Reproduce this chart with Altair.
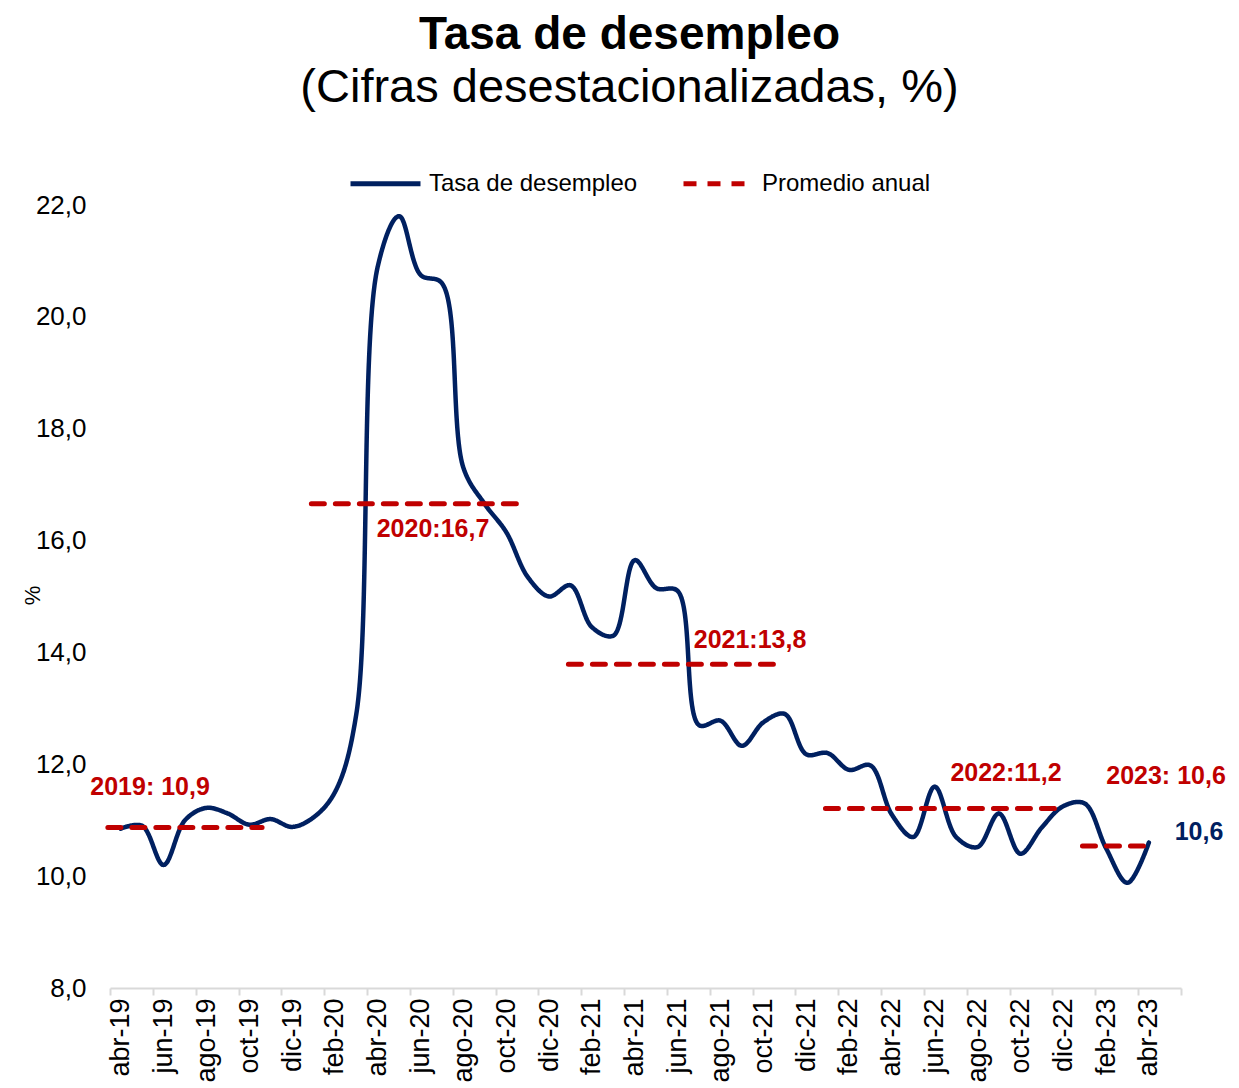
import altair as alt
import pandas as pd

months = ['abr-19', 'may-19', 'jun-19', 'jul-19', 'ago-19', 'sep-19', 'oct-19', 'nov-19', 'dic-19',
          'ene-20', 'feb-20', 'mar-20', 'abr-20', 'may-20', 'jun-20', 'jul-20', 'ago-20', 'sep-20',
          'oct-20', 'nov-20', 'dic-20',
          'ene-21', 'feb-21', 'mar-21', 'abr-21', 'may-21', 'jun-21', 'jul-21', 'ago-21', 'sep-21',
          'oct-21', 'nov-21', 'dic-21',
          'ene-22', 'feb-22', 'mar-22', 'abr-22', 'may-22', 'jun-22', 'jul-22', 'ago-22', 'sep-22',
          'oct-22', 'nov-22', 'dic-22',
          'ene-23', 'feb-23', 'mar-23', 'abr-23']

rate = [10.85, 10.9, 10.2, 11.0, 11.22, 11.12, 10.92, 11.02, 10.88,
        11.05, 11.5, 12.9, 20.9, 21.8, 20.75, 20.6, 17.3, 16.65, 16.15, 15.35, 15.0,
        15.2, 14.45, 14.3, 15.65, 15.15, 15.1, 12.7, 12.78, 12.33, 12.75, 12.9, 12.18,
        12.2, 11.9, 11.98, 11.1, 10.7, 11.6, 10.7, 10.52, 11.12, 10.4, 10.87, 11.25,
        11.3, 10.5, 9.88, 10.6]

avg_year = ['2019', '2020', '2021', '2022', '2023']
avg_value = [10.87, 16.66, 13.79, 11.21, 10.54]
avg_start = [-0.6, 8.9, 20.9, 32.9, 44.9]
avg_end = [6.6, 18.55, 30.6, 43.7, 47.9]
avg_label = ['2019: 10,9', '2020:16,7', '2021:13,8', '2022:11,2', '2023: 10,6']

last_label = '10,6'

# annotation anchor positions (month index, % value)
avg_label_x = [1.37, 14.58, 29.38, 41.33, 48.8]
avg_label_y = [11.59, 16.21, 14.22, 11.84, 11.79]
last_label_x = 50.34
last_label_y = 10.79

S_RATE = 'Tasa de desempleo'
S_AVG = 'Promedio anual'
NAVY = '#002060'
RED = '#C00000'
FONT = 'Liberation Sans'

df_rate = pd.DataFrame({'i': list(range(len(months))), 'mes': months, 'tasa': rate, 'serie': S_RATE})
df_avg = pd.DataFrame({'anio': avg_year, 'valor': avg_value, 'x0': avg_start, 'x1': avg_end, 'serie': S_AVG})
df_lab = pd.DataFrame({'txt': avg_label, 'x': avg_label_x, 'y': avg_label_y})
df_last = pd.DataFrame({'txt': [last_label], 'x': [last_label_x], 'y': [last_label_y]})

n_cat = len(months) + 1
x_scale = alt.Scale(domain=[-0.5, n_cat - 0.5], nice=False, zero=False)
y_scale = alt.Scale(domain=[8, 22], nice=False, zero=False)

labels_js = '[' + ','.join("'" + m + "'" for m in months) + ']'
x_label_expr = f"datum.value < {len(months) - 0.5} ? {labels_js}[round(datum.value + 0.5)] : ''"

x_axis = alt.Axis(
    values=[k - 0.5 for k in range(0, n_cat + 1, 2)],
    labelExpr=x_label_expr, labelAngle=-90, labelOffset=10.7, labelPadding=3,
    labelFontSize=27, labelColor='black', labelFont=FONT, labelOverlap=False,
    labelBound=False, labelFlush=False,
    domainColor='#d9d9d9', domainWidth=2, tickColor='#d9d9d9', tickWidth=2, tickSize=7,
    grid=False, title=None,
)
y_axis = alt.Axis(
    values=[8, 10, 12, 14, 16, 18, 20, 22],
    labelExpr="replace(format(datum.value, '.1f'), '.', ',')",
    labelFontSize=26, labelColor='black', labelFont=FONT, labelPadding=24,
    ticks=False, tickSize=0, domain=False, grid=False,
    title='%', titleFontSize=22, titleFontWeight='normal', titleColor='black', titleFont=FONT,
    titleX=-78, titleY=390, titleAngle=-90, titleBaseline='middle', titleAlign='center',
)

legend = alt.Legend(orient='none', legendX=238, legendY=-59, direction='horizontal',
                    title=None, symbolType='stroke', symbolSize=4900,
                    symbolStrokeWidth=5, labelFontSize=24, labelFont=FONT, labelLimit=500,
                    labelColor='black', labelOffset=6, columnPadding=35)

color = alt.Color('serie:N', scale=alt.Scale(domain=[S_RATE, S_AVG], range=[NAVY, RED]), legend=legend)
dash = alt.StrokeDash('serie:N', scale=alt.Scale(domain=[S_RATE, S_AVG], range=[[1, 0], [13, 11]]),
                      legend=legend)

line = alt.Chart(df_rate).mark_line(interpolate='catmull-rom', strokeWidth=4.5, strokeCap='round').encode(
    x=alt.X('i:Q', scale=x_scale, axis=x_axis),
    y=alt.Y('tasa:Q', scale=y_scale, axis=y_axis),
    color=color, strokeDash=dash,
)

rules = alt.Chart(df_avg).mark_rule(strokeWidth=5, strokeCap='round').encode(
    x=alt.X('x0:Q', scale=x_scale),
    x2='x1:Q',
    y=alt.Y('valor:Q', scale=y_scale),
    color=color, strokeDash=dash,
)

labels = alt.Chart(df_lab).mark_text(fontSize=25, fontWeight='bold', color=RED, font=FONT,
                                     align='center', baseline='middle').encode(
    x=alt.X('x:Q', scale=x_scale), y=alt.Y('y:Q', scale=y_scale), text='txt:N')

last = alt.Chart(df_last).mark_text(fontSize=25, fontWeight='bold', color=NAVY, font=FONT,
                                    align='center', baseline='middle').encode(
    x=alt.X('x:Q', scale=x_scale), y=alt.Y('y:Q', scale=y_scale), text='txt:N')

chart = alt.layer(line, rules, labels, last).properties(
    width=1071, height=783,
    autosize=alt.AutoSizeParams(type='none'),
    padding={'left': 102, 'top': 197, 'right': 46, 'bottom': 96},
    title=alt.TitleParams(text='Tasa de desempleo', subtitle='(Cifras desestacionalizadas, %)',
                          fontSize=46, fontWeight='bold', font=FONT, color='black',
                          subtitleFontSize=47, subtitleFont=FONT, subtitleFontWeight='normal',
                          subtitleColor='black', subtitlePadding=6,
                          anchor='middle', dx=-16, offset=34),
).configure(font=FONT).configure_view(stroke=None)

chart.save('out.html', embed_options={'renderer': 'svg', 'actions': False})
